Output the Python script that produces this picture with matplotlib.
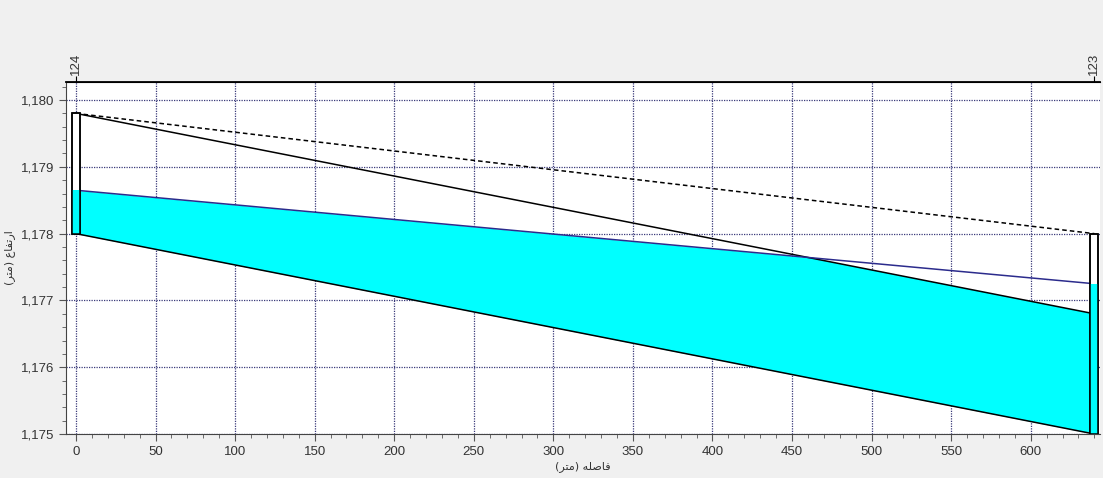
import matplotlib
matplotlib.use('Agg')
import matplotlib.pyplot as plt
import numpy as np
from matplotlib.ticker import MultipleLocator, FuncFormatter

# profile of the sewer reach between node 124 and node 123
dist = np.array([0, 640])
ground = np.array([1179.8, 1178.0])
crown = np.array([1179.8, 1176.8])
invert = np.array([1178.0, 1175.0])
water = np.array([1178.65, 1177.25])

node_names = ['124', '123']
manhole_top = np.array([1179.8, 1178.0])
manhole_bottom = np.array([1178.0, 1175.0])
manhole_water = np.array([1178.65, 1177.25])

# Persian labels, written in visual order with presentation forms
xlabel = '(\ufeae\ufe98\ufee3) \ufeea\ufee0\ufebb\ufe8e\ufed3'
ylabel = '(\ufeae\ufe98\ufee3) \ufec9\ufe8e\ufed4\ufe97\ufead\ufe8d'

plt.rcParams['font.family'] = ['Liberation Sans', 'DejaVu Sans']

fig = plt.figure(figsize=(11.03, 4.78), dpi=100, facecolor='#f0f0f0')
ax = fig.add_axes([0.0598, 0.092, 0.9374, 0.7364])
ax.set_facecolor('white')
ax.set_axisbelow(True)

# water inside pipe, clipped to below the crown
clip = ax.fill_between(dist, 1100, crown, color='none', lw=0)
wet = ax.fill_between(dist, invert, water, color='#00ffff', lw=0, zorder=2)
wet.set_clip_path(clip.get_paths()[0], ax.transData)

ax.plot(dist, ground, color='black', lw=1.1, ls=(0, (3, 2)), zorder=3)
ax.plot(dist, crown, color='black', lw=1.1, zorder=3)
ax.plot(dist, invert, color='black', lw=1.1, zorder=3)
ax.plot(dist, water, color='#2b2b8c', lw=1.1, zorder=3)

# manholes
ax.bar(dist, manhole_top - manhole_bottom, bottom=manhole_bottom, width=5,
       color='white', edgecolor='black', lw=1.1, zorder=4)
ax.bar(dist, manhole_water - manhole_bottom, bottom=manhole_bottom, width=5,
       color='#00ffff', edgecolor='none', zorder=4)
ax.bar(dist, manhole_top - manhole_bottom, bottom=manhole_bottom, width=5,
       fill=False, edgecolor='black', lw=1.1, zorder=5)

ax.set_xlim(-6.3, 643.5)
ax.set_ylim(1175, 1180.27)

ax.xaxis.set_major_locator(MultipleLocator(50))
ax.xaxis.set_minor_locator(MultipleLocator(10))
ax.yaxis.set_major_locator(MultipleLocator(1))
ax.yaxis.set_minor_locator(MultipleLocator(0.2))
ax.yaxis.set_major_formatter(FuncFormatter(lambda v, p: f'{v:,.0f}'))
ax.set_xticks(np.arange(0, 601, 50))

ax.grid(True, which='major', color='#3a3a7a', ls=(0, (1, 1)), lw=0.9)
ax.tick_params(which='major', length=5, color='#555555', labelsize=9.5,
               labelcolor='#333333')
ax.tick_params(which='minor', length=3, color='#555555')

for side in ['left', 'bottom']:
    ax.spines[side].set_color('#444444')
ax.spines['top'].set_color('black')
ax.spines['top'].set_linewidth(1.3)
ax.spines['right'].set_visible(False)

top = ax.secondary_xaxis('top')
top.set_xticks(dist)
top.set_xticklabels(node_names, rotation=90)
top.tick_params(length=4, labelsize=9.5, labelcolor='#333333', pad=1)

ax.set_xlabel(xlabel, family='DejaVu Sans', fontsize=8, color='#333333',
              labelpad=2)
ax.set_ylabel(ylabel, family='DejaVu Sans', fontsize=8, color='#333333',
              labelpad=4)

fig.savefig('out.png', dpi=100, facecolor=fig.get_facecolor())
